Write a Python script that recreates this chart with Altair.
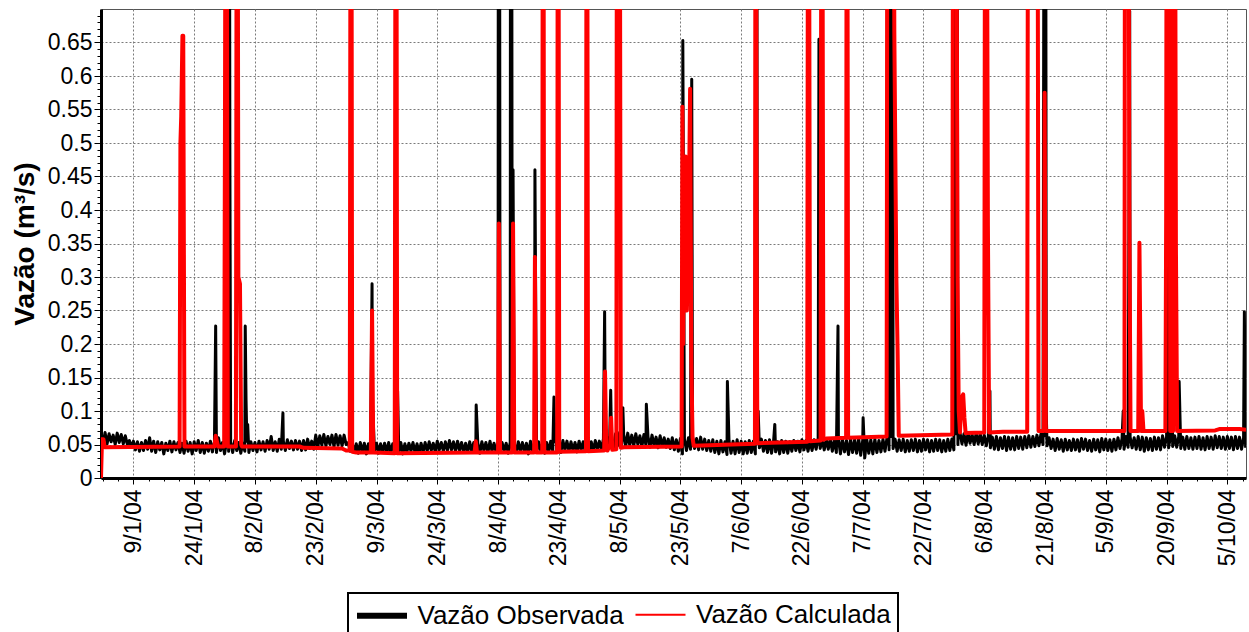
import datetime as dt
import altair as alt
import pandas as pd

# ---------------- data ----------------
START = dt.datetime(2004, 1, 1)
END_DAY = 282.6  # last day shown (days after 1/1/2004)

series_names = ["Vazão Observada", "Vazão Calculada"]
series_colors = ["#000000", "#ff0000"]

x_tick_labels = ["9/1/04", "24/1/04", "8/2/04", "23/2/04", "9/3/04", "24/3/04",
                 "8/4/04", "23/4/04", "8/5/04", "23/5/04", "7/6/04", "22/6/04",
                 "7/7/04", "22/7/04", "6/8/04", "21/8/04", "5/9/04", "20/9/04",
                 "5/10/04"]
y_tick_labels = ["0", "0.05", "0.1", "0.15", "0.2", "0.25", "0.3", "0.35",
                 "0.4", "0.45", "0.5", "0.55", "0.6", "0.65"]

# Vazão Observada: readings every 12 hours from 1/1/2004 00:00 (m3/s)
obs_base = [
    .060, .052, .068, .051, .066, .054, .064, .050, .067, .053, .065, .051, .063, .050, .056, .046, .055, .042, .054, .040,
    .053, .041, .056, .043, .060, .040, .055, .038, .054, .042, .053, .036, .052, .041, .055, .039, .054, .042, .053, .038,
    .052, .037, .055, .040, .053, .036, .054, .041, .056, .038, .053, .037, .052, .040, .055, .039, .054, .038, .060, .041,
    .053, .036, .055, .040, .054, .038, .056, .041, .053, .037, .052, .040, .055, .038, .054, .041, .053, .039, .055, .042,
    .054, .040, .056, .043, .062, .041, .054, .040, .058, .043, .055, .041, .057, .044, .055, .042, .056, .043, .055, .041,
    .056, .042, .058, .044, .055, .043, .064, .046, .063, .049, .065, .048, .062, .050, .064, .047, .065, .049, .063, .048,
    .064, .050, .053, .040, .052, .038, .051, .037, .053, .039, .052, .036, .051, .038, .053, .040, .052, .037, .051, .039,
    .052, .038, .053, .037, .051, .039, .052, .038, .053, .036, .051, .039, .052, .040, .053, .038, .051, .037, .052, .039,
    .053, .040, .054, .041, .052, .039, .055, .042, .053, .040, .054, .041, .056, .042, .054, .040, .055, .041, .053, .039,
    .052, .038, .054, .040, .053, .039, .052, .037, .054, .041, .053, .038, .055, .040, .052, .039, .054, .038, .053, .040,
    .052, .037, .053, .039, .052, .038, .054, .040, .053, .039, .052, .036, .055, .040, .053, .038, .054, .041, .052, .037,
    .053, .039, .055, .040, .054, .041, .053, .038, .056, .042, .055, .040, .054, .041, .053, .039, .055, .042, .054, .040,
    .055, .041, .054, .040, .056, .043, .055, .042, .058, .044, .060, .046, .058, .045, .066, .048, .068, .050, .065, .047,
    .067, .049, .064, .048, .066, .050, .063, .047, .065, .049, .062, .046, .064, .048, .061, .045, .063, .047, .060, .046,
    .058, .044, .060, .042, .057, .040, .059, .036, .058, .041, .060, .043, .062, .044, .059, .042, .061, .043, .058, .041,
    .056, .040, .057, .038, .055, .036, .056, .039, .054, .035, .056, .037, .055, .036, .057, .038, .055, .036, .054, .037,
    .056, .038, .055, .036, .062, .045, .058, .040, .056, .038, .057, .037, .055, .039, .054, .036, .056, .038, .055, .037,
    .054, .040, .056, .041, .055, .039, .057, .042, .056, .040, .055, .041, .057, .043, .058, .044, .057, .042, .058, .043,
    .058, .040, .057, .038, .059, .036, .058, .039, .056, .035, .058, .038, .057, .037, .059, .034, .056, .030, .058, .037,
    .057, .036, .058, .038, .056, .039, .058, .040, .060, .042, .062, .044, .058, .040, .057, .041, .058, .039, .056, .040,
    .057, .041, .058, .039, .056, .040, .058, .042, .057, .039, .056, .040, .058, .041, .057, .039, .056, .040, .058, .041,
    .058, .042, .066, .050, .068, .051, .066, .049, .067, .052, .065, .050, .067, .051, .066, .050, .064, .048, .062, .045,
    .061, .043, .062, .042, .060, .044, .062, .041, .061, .043, .060, .042, .062, .044, .061, .043, .062, .045, .063, .046,
    .062, .047, .064, .048, .066, .050, .063, .048, .060, .044, .058, .041, .059, .043, .057, .040, .058, .042, .056, .041,
    .058, .042, .057, .040, .059, .043, .058, .041, .056, .040, .058, .042, .057, .039, .059, .042, .058, .041, .057, .040,
    .058, .042, .060, .044, .059, .043, .062, .046, .061, .045, .060, .043, .062, .042, .061, .040, .060, .042, .059, .041,
    .061, .043, .060, .042, .063, .046, .062, .045, .064, .047, .063, .046, .062, .044, .061, .043, .062, .044, .060, .043,
    .061, .044, .062, .043, .060, .042, .062, .044, .061, .043, .063, .045, .062, .044, .061, .043, .062, .044, .061, .042,
    .062, .044, .061, .043, .060, .045,
]

# Vazão Observada: flood peaks (day after 1/1/2004, m3/s); 1.5 = beyond the top of the plot
obs_peak_days = [28.3, 31.1, 31.4, 31.6, 31.8, 35.6, 35.8, 36.2, 44.9, 66.9, 67.1, 73.2, 73.4,
                 92.6, 98.1, 98.3, 101.1, 101.3, 101.7, 107.1, 111.8, 112.2, 124.3, 125.8,
                 128.8, 134.6, 143.6, 145.8, 154.6, 161.6, 161.8, 162.2, 166.3, 177.2, 181.9,
                 188.1, 194.1, 194.4, 194.7, 194.9, 195.1, 195.3, 210.6, 210.8, 211.2, 211.6,
                 219.4, 232.9, 233.1, 233.3, 252.3, 253.9, 263.3, 264.2, 266.1, 282.2]
obs_peak_vals = [0.227, 1.5, 1.5, 1.5, 0.5, 0.227, 0.116, 0.08, 0.097, 0.29, 0.1, 0.13, 0.07,
                 0.109, 1.5, 1.5, 1.5, 1.5, 0.46, 0.46, 0.121, 0.08, 0.248, 0.131,
                 0.105, 0.11, 0.653, 0.595, 0.144, 1.5, 1.5, 0.1, 0.08, 0.655, 0.227,
                 0.09, 1.5, 1.5, 1.5, 1.5, 1.5, 1.5, 1.5, 1.5, 1.5, 0.09,
                 0.13, 1.5, 1.5, 0.097, 0.1, 0.697, 1.5, 0.2, 0.144, 0.248]

# Vazão Calculada (day after 1/1/2004, m3/s)
calc_days = [
    0.0, 0.25, 0.6, 0.9, 19.4, 19.6, 19.8, 20.1, 20.3, 20.6,
    28.0, 28.3, 28.6, 28.9,
    30.4, 30.6, 30.9, 31.3,
    33.3, 33.6, 33.9, 34.3, 34.6, 34.8,
    49.0, 50.0, 59.5, 60.5,
    61.4, 61.7, 62.0, 63.0,
    66.6, 66.9, 67.2,
    72.5, 72.8, 73.1,
    92.2, 92.5, 92.8,
    98.0, 98.2, 98.5,
    101.5, 101.7, 102.0,
    105.0,
    106.9, 107.1, 107.3, 107.5,
    108.9, 109.1, 109.4,
    112.6, 112.8, 113.1,
    119.7, 119.9, 120.2,
    124.2, 124.4, 124.7, 125.0,
    125.7, 125.9, 126.2,
    127.2, 127.4, 127.7, 127.9, 128.3, 129.0,
    143.3, 143.5, 143.7, 143.9, 144.1, 144.3, 144.6, 145.0, 145.4, 145.7, 146.0, 146.3,
    161.4, 161.6, 161.8, 162.0,
    174.3, 174.6, 175.0,
    177.6, 177.9, 178.3, 179.0,
    183.9, 184.1, 184.4,
    193.9, 194.2, 194.6, 194.9, 195.4, 195.8, 196.3, 196.6, 196.9,
    210.1, 210.4, 210.9, 211.4, 211.7, 212.0, 212.4, 212.8, 213.1, 213.4,
    218.0, 218.3, 218.7, 218.9, 219.2,
    222.6,
    228.6, 228.9, 229.5, 229.8, 230.4, 231.0, 231.4,
    232.7, 232.9, 233.2,
    252.6, 252.8, 253.4, 253.8, 254.1,
    256.0, 256.3, 256.7, 257.0, 257.3,
    262.7, 262.9, 263.1, 263.6, 263.9,
    264.6, 264.9, 265.3, 265.6,
    275.0, 276.0, 281.0, 282.6,
]
calc_vals = [
    0.0, 0.058, 0.058, 0.046, 0.047, 0.50, 0.54, 0.66, 0.66, 0.047,
    0.047, 0.063, 0.055, 0.047,
    0.047, 0.54, 1.5, 0.047,
    0.047, 1.5, 0.30, 0.29, 0.05, 0.047,
    0.047, 0.045, 0.044, 0.041,
    0.041, 1.5, 0.039, 0.038,
    0.038, 0.25, 0.038,
    0.037, 1.5, 0.037,
    0.038, 0.055, 0.038,
    0.038, 0.38, 0.038,
    0.038, 0.38, 0.038,
    0.038,
    0.038, 0.33, 0.06, 0.038,
    0.038, 1.5, 0.038,
    0.038, 1.5, 0.039,
    0.040, 1.5, 0.040,
    0.041, 0.159, 0.05, 0.041,
    0.05, 0.09, 0.042,
    0.043, 1.5, 0.3, 1.5, 0.045, 0.046,
    0.047, 0.554, 0.2, 0.385, 0.3, 0.48, 0.25, 0.35, 0.581, 0.176, 0.06, 0.048,
    0.051, 1.5, 0.37, 0.052,
    0.054, 1.5, 0.055,
    0.056, 1.5, 0.057, 0.059,
    0.060, 1.5, 0.060,
    0.062, 1.5, 1.5, 0.9, 1.5, 0.667, 0.3, 0.194, 0.063,
    0.065, 1.5, 1.5, 0.3, 0.1, 0.068, 0.12, 0.125, 0.09, 0.067,
    0.068, 1.5, 0.8, 0.376, 0.068,
    0.069,
    0.069, 1.5, 1.5, 1.2, 1.5, 1.5, 0.07,
    0.07, 0.575, 0.07,
    0.07, 1.5, 1.5, 0.413, 0.07,
    0.07, 0.351, 0.07, 0.1, 0.07,
    0.07, 0.4, 1.5, 1.5, 0.07,
    0.07, 1.5, 0.348, 0.07,
    0.071, 0.073, 0.073, 0.072,
]

# ---------------- helpers ----------------
EPOCH = dt.datetime(1970, 1, 1)


def to_ms(d):
    return (d - EPOCH).total_seconds() * 1000.0


def day_ms(day):
    return to_ms(START + dt.timedelta(days=day))


obs_pts = sorted(list(zip([i * 0.5 for i in range(len(obs_base))], obs_base))
                 + list(zip(obs_peak_days, obs_peak_vals)))
obs_df = pd.DataFrame({
    "t": [day_ms(d) for d, _ in obs_pts],
    "v": [v for _, v in obs_pts],
    "serie": series_names[0],
})
calc_pts = list(zip(calc_days, calc_vals))
calc_df = pd.DataFrame({
    "t": [day_ms(d) for d, _ in calc_pts],
    "v": [v for _, v in calc_pts],
    "serie": series_names[1],
})
legend_df = pd.concat([obs_df.iloc[:1], calc_df.iloc[:1]], ignore_index=True)

# x ticks: labelled every 15 days, minor ticks every 3.75 days
major_dates = []
for s in x_tick_labels:
    d, m, y = s.split("/")
    major_dates.append(dt.datetime(2000 + int(y), int(m), int(d)))
step = dt.timedelta(days=3.75)
end_dt = START + dt.timedelta(days=END_DAY)
cur = major_dates[0]
while cur - step >= START:
    cur -= step
x_ticks = []
while cur <= end_dt:
    x_ticks.append(to_ms(cur))
    cur += step

y_ticks = [i / 100 for i in range(70)]

FONT = "Liberation Sans"
is_major_x = "utchours(datum.value) == 0"
is_major_y = "abs(datum.value * 20 - round(datum.value * 20)) < 0.001"

x_axis = alt.Axis(
    values=x_ticks,
    labelExpr=f"{is_major_x} ? utcFormat(datum.value, '%-d/%-m/%y') : ''",
    labelAngle=270, labelFontSize=23, labelFont=FONT, labelColor="black",
    labelOverlap=False, labelFlush=False, labelPadding=5,
    grid=True, gridColor="#7a7a7a", gridDash=[2, 2], gridWidth=1,
    gridOpacity={"condition": {"test": is_major_x, "value": 1}, "value": 0},
    tickSize={"condition": {"test": is_major_x, "value": 6}, "value": 3},
    tickColor="black", tickWidth=1,
    domainColor="black", domainWidth=3, title=None,
)
y_axis = alt.Axis(
    values=y_ticks,
    labelExpr=f"{is_major_y} ? format(datum.value, '.2~f') : ''",
    labelFontSize=23, labelFont=FONT, labelColor="black",
    labelOverlap=False, labelPadding=2,
    grid=True, gridColor="#7a7a7a", gridDash=[2, 2], gridWidth=1,
    gridOpacity={"condition": {"test": is_major_y, "value": 1}, "value": 0},
    tickSize={"condition": {"test": is_major_y, "value": 7}, "value": 4},
    tickColor="black", tickWidth=1,
    domainColor="black", domainWidth=3,
    title="Vazão (m³/s)", titleFont=FONT, titleFontSize=28, titleFontWeight="bold",
    titleColor="black", titleAngle=270, titleAlign="center", titleBaseline="middle",
    titleX=-76, titleY=234.5,
)

x_scale = alt.Scale(type="utc", domain=[day_ms(0), day_ms(END_DAY)], nice=False)
y_scale = alt.Scale(domain=[0, 0.7], nice=False, zero=False)
color_scale = alt.Scale(domain=series_names, range=series_colors)

leg = alt.Legend(
    title=None, orient="none", legendX=247, legendY=584, direction="horizontal",
    columns=2, labelFontSize=26, labelFont=FONT, labelColor="black", labelLimit=400,
    labelExpr=f"datum.value == '{series_names[1]}' ? datum.label + '  ' : datum.label",
    symbolType="M-2,0L2,0", symbolSize=625, symbolOffset=11.5, labelOffset=20,
    columnPadding=7.5, padding=7, strokeColor="black", fillColor="white",
    symbolOpacity=1,
)

# invisible layer carrying the legend (thick black / thin red symbols)
legend_layer = alt.Chart(legend_df).transform_calculate(g="datum.v - 1").mark_line(clip=True).encode(
    x=alt.X("t:T", scale=x_scale, axis=x_axis),
    y=alt.Y("g:Q", scale=y_scale, axis=y_axis),
    color=alt.Color("serie:N", scale=color_scale, legend=leg),
    strokeWidth=alt.StrokeWidth("serie:N", scale=alt.Scale(domain=series_names, range=[6, 2]), legend=leg),
)

obs_layer = alt.Chart(obs_df).mark_line(clip=True, strokeJoin="round").encode(
    x=alt.X("t:T", scale=x_scale, axis=x_axis),
    y=alt.Y("v:Q", scale=y_scale, axis=y_axis),
    color=alt.Color("serie:N", scale=color_scale, legend=None),
    strokeWidth=alt.value(3),
)
calc_layer = alt.Chart(calc_df).mark_line(clip=True, strokeJoin="round").encode(
    x=alt.X("t:T", scale=x_scale, axis=x_axis),
    y=alt.Y("v:Q", scale=y_scale, axis=y_axis),
    color=alt.Color("serie:N", scale=color_scale, legend=None),
    strokeWidth=alt.value(4),
)

chart = alt.layer(legend_layer, obs_layer, calc_layer).properties(
    width=1145, height=469,
    autosize=alt.AutoSizeParams(type="none"),
    padding={"left": 101, "top": 9, "right": 3, "bottom": 154},
    background="white",
).configure(font=FONT).configure_view(
    stroke="#555555", strokeWidth=1
).configure_legend(strokeWidth=2)

chart.save("out.html", embed_options={"renderer": "svg", "actions": False})
